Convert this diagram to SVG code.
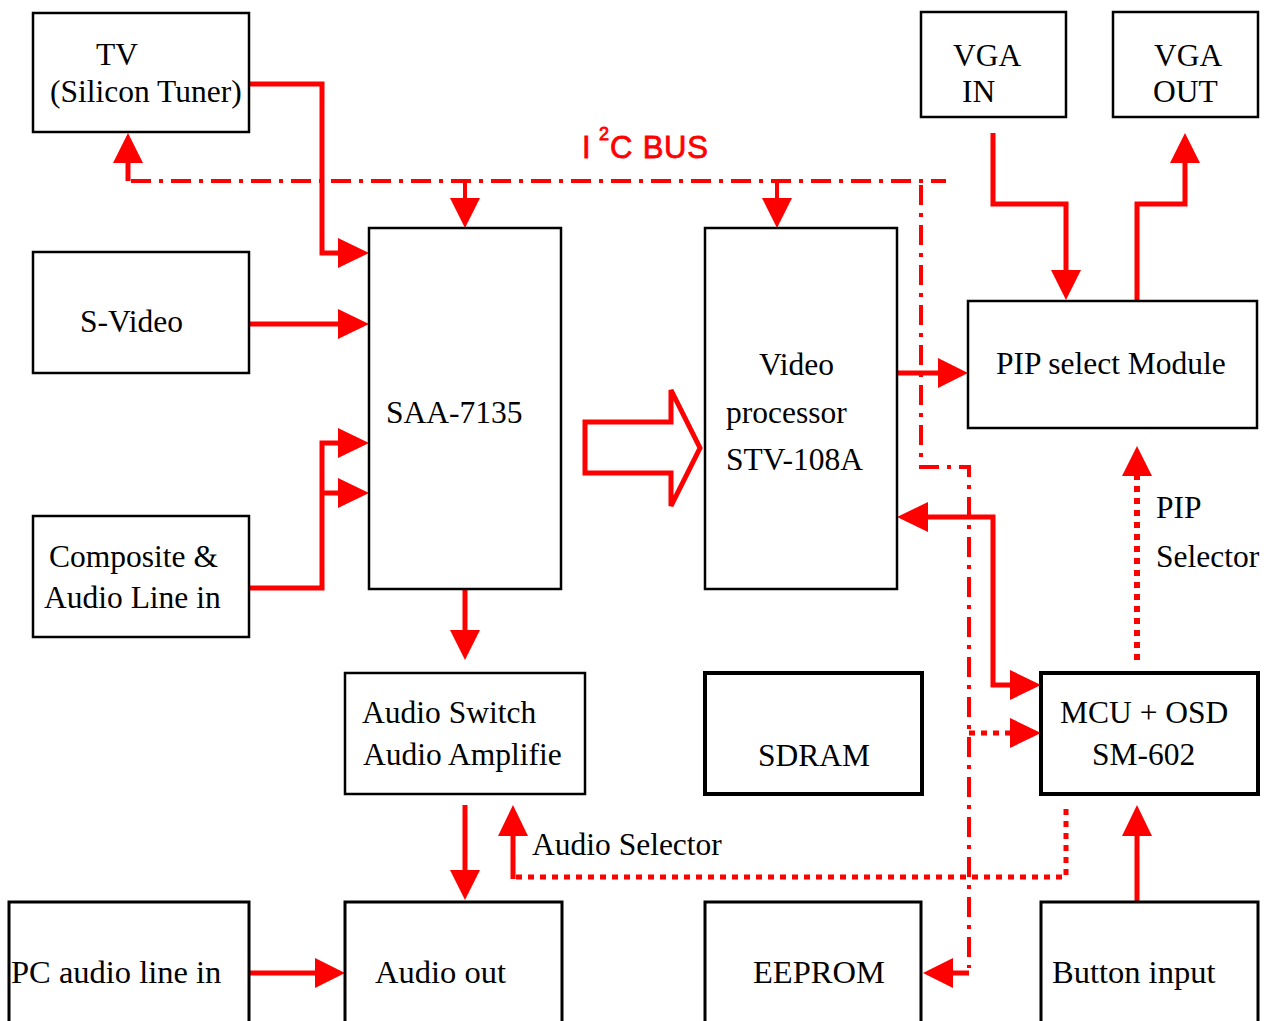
<svg xmlns="http://www.w3.org/2000/svg" width="1273" height="1021" viewBox="0 0 1273 1021">
<style>
.box{fill:#fff;stroke:#000;stroke-width:2.5}
.thick{stroke-width:4}
.bot{stroke-width:3}
.t{font-family:"Liberation Serif","Times New Roman",serif;font-size:31.5px;fill:#000}
.tb{font-size:32.5px}
.w{fill:none;stroke:#f00;stroke-width:5;stroke-linejoin:miter}
.ah{fill:#f00;stroke:none}
.dd{fill:none;stroke:#f00;stroke-width:4;stroke-dasharray:20 8 4 8}
.dot{fill:none;stroke:#f00;stroke-width:5;stroke-dasharray:6 6}
.dot2{fill:none;stroke:#f00;stroke-width:6;stroke-dasharray:6 6}
.bus{font-family:"Liberation Sans",Arial,sans-serif;fill:#f00;stroke:#f00;stroke-width:0.8}
</style>
<rect width="1273" height="1021" fill="#fff"/>
<g id="connectors">
  <!-- TV to SAA -->
  <path class="w" d="M249 84 H322 V253 H340"/>
  <polygon class="ah" points="338,238 369,253 338,268"/>
  <!-- S-Video -->
  <path class="w" d="M249 324 H340"/>
  <polygon class="ah" points="338,309 369,324 338,339"/>
  <!-- Composite -->
  <path class="w" d="M249 588 H322 V443 H340 M322 493 H340"/>
  <polygon class="ah" points="338,428 369,443 338,458"/>
  <polygon class="ah" points="338,478 369,493 338,508"/>
  <!-- SAA to audio switch -->
  <path class="w" d="M465 589 V632"/>
  <polygon class="ah" points="450,630 480,630 465,660"/>
  <!-- audio switch to audio out -->
  <path class="w" d="M465 805 V872"/>
  <polygon class="ah" points="450,870 480,870 465,900"/>
  <!-- PC audio to audio out -->
  <path class="w" d="M249 973 H317"/>
  <polygon class="ah" points="315,958 345,973 315,988"/>
  <!-- hollow arrow SAA to VP -->
  <polygon points="585,422 671,422 671,390 700,448 671,506 671,473 585,473" fill="none" stroke="#f00" stroke-width="5"/>
  <!-- VP to PIP -->
  <path class="w" d="M897 373 H940"/>
  <polygon class="ah" points="938,358 968,373 938,388"/>
  <!-- VGA IN to PIP -->
  <path class="w" d="M993 133 V204 H1066 V272"/>
  <polygon class="ah" points="1051,270 1081,270 1066,300"/>
  <!-- PIP to VGA OUT -->
  <path class="w" d="M1137 300 V204 H1185 V161"/>
  <polygon class="ah" points="1170,163 1200,163 1185,133"/>
  <!-- VP <-> MCU -->
  <path class="w" d="M926 517 H993 V685 H1012"/>
  <polygon class="ah" points="928,502 897,517 928,532"/>
  <polygon class="ah" points="1010,670 1041,685 1010,700"/>
  <!-- PIP selector -->
  <path class="dot2" d="M1137 660 V476"/>
  <polygon class="ah" points="1122,476 1152,476 1137,446"/>
  <!-- Button to MCU -->
  <path class="w" d="M1137 902 V834"/>
  <polygon class="ah" points="1122,836 1152,836 1137,805"/>
  <!-- Audio selector -->
  <path class="w" d="M513 879 V834"/>
  <polygon class="ah" points="498,836 528,836 513,805"/>
  <path class="dot" d="M516 877 H1066 V805"/>
  <!-- I2C bus -->
  <path class="w" d="M128 161 V181"/>
  <polygon class="ah" points="113,163 143,163 128,133"/>
  <path class="dd" d="M131 181 H946"/>
  <path class="dd" d="M465 181 V200" stroke-dasharray="4 7 4 20"/>
  <polygon class="ah" points="450,198 480,198 465,228"/>
  <path class="dd" d="M777 181 V200" stroke-dasharray="4 7 4 20"/>
  <polygon class="ah" points="762,198 792,198 777,228"/>
  <path class="dd" d="M921 185 V467 H969 V968"/>
  <path class="w" d="M969 973 H951"/>
  <polygon class="ah" points="953,958 953,988 923,973"/>
  <path class="dot" d="M969 733 H1012"/>
  <polygon class="ah" points="1010,718 1041,733 1010,748"/>
</g>
<g id="tv"><rect class="box" x="33" y="13" width="216" height="119"/><text class="t" x="96" y="65">TV</text><text class="t" x="50" y="102">(Silicon Tuner)</text></g>
<g id="svideo"><rect class="box" x="33" y="252" width="216" height="121"/><text class="t" x="80" y="332">S-Video</text></g>
<g id="composite"><rect class="box" x="33" y="516" width="216" height="121"/><text class="t" x="49" y="567">Composite &amp;</text><text class="t" x="44" y="608">Audio Line in</text></g>
<g id="saa"><rect class="box" x="369" y="228" width="192" height="361"/><text class="t" x="386" y="423">SAA-7135</text></g>
<g id="vp"><rect class="box" x="705" y="228" width="192" height="361"/><text class="t" x="759" y="375">Video</text><text class="t" x="726" y="423">processor</text><text class="t" x="726" y="470">STV-108A</text></g>
<g id="vgain"><rect class="box" x="921" y="12" width="145" height="105"/><text class="t" x="953" y="66">VGA</text><text class="t" x="962" y="102">IN</text></g>
<g id="vgaout"><rect class="box" x="1113" y="12" width="145" height="105"/><text class="t" x="1154" y="66">VGA</text><text class="t" x="1153" y="102">OUT</text></g>
<g id="pip"><rect class="box" x="968" y="301" width="289" height="127"/><text class="t" x="996" y="374">PIP select Module</text></g>
<g id="audioswitch"><rect class="box" x="345" y="673" width="240" height="121"/><text class="t" x="362" y="723">Audio Switch</text><text class="t" x="363" y="765">Audio Amplifie</text></g>
<g id="sdram"><rect class="box thick" x="705" y="673" width="217" height="121"/><text class="t" x="758" y="766">SDRAM</text></g>
<g id="mcu"><rect class="box thick" x="1041" y="673" width="217" height="121"/><text class="t" x="1060" y="723">MCU + OSD</text><text class="t" x="1092" y="765">SM-602</text></g>
<g id="pcaudio"><rect class="box bot" x="9" y="902" width="240" height="130"/><text class="t tb" x="11" y="983">PC audio line in</text></g>
<g id="audioout"><rect class="box bot" x="345" y="902" width="217" height="130"/><text class="t tb" x="375" y="983">Audio out</text></g>
<g id="eeprom"><rect class="box bot" x="705" y="902" width="216" height="130"/><text class="t tb" x="753" y="983">EEPROM</text></g>
<g id="button"><rect class="box bot" x="1041" y="902" width="217" height="130"/><text class="t tb" x="1052" y="983">Button input</text></g>
<g id="labels">
  <text class="t" x="532" y="855">Audio Selector</text>
  <text class="t" x="1156" y="518">PIP</text>
  <text class="t" x="1156" y="567">Selector</text>
  <text class="bus" x="582" y="158" font-size="31">I</text>
  <text class="bus" x="599" y="140" font-size="18">2</text>
  <text class="bus" x="610" y="158" font-size="31" textLength="98">C BUS</text>
</g>
</svg>
